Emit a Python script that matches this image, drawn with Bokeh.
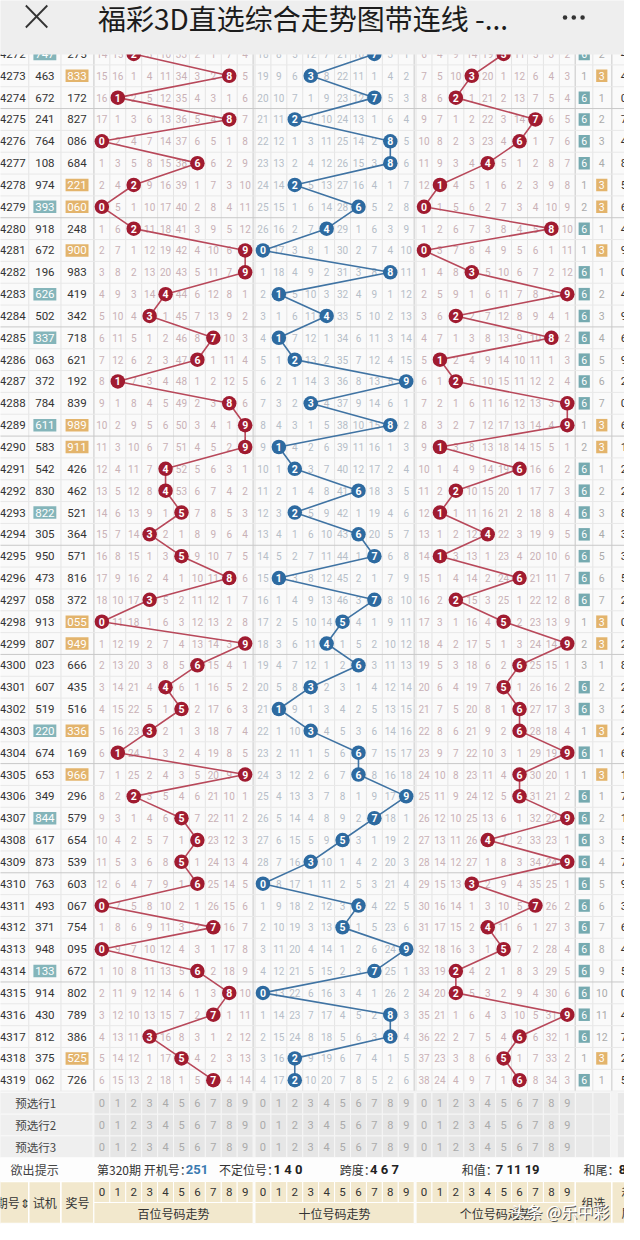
from bokeh.plotting import figure
from bokeh.models import ColumnDataSource, Range1d
from bokeh.core.properties import value
from bokeh.embed import file_html
from bokeh.resources import INLINE

# ---------------- data ----------------
periods = list(range(4272, 4320))
trial_nums = ["747", "463", "672", "241", "764", "108", "974", "393", "918", "672",
              "196", "626", "502", "337", "063", "372", "784", "611", "583", "542",
              "830", "822", "305", "950", "473", "058", "913", "807", "023", "607",
              "519", "220", "674", "653", "349", "844", "617", "873", "763", "493",
              "371", "948", "133", "914", "430", "812", "375", "062"]
prize_nums = ["275", "833", "172", "827", "086", "684", "221", "060", "248", "900",
              "983", "419", "342", "718", "621", "192", "839", "989", "911", "426",
              "462", "521", "364", "571", "816", "372", "055", "949", "666", "435",
              "516", "336", "169", "966", "296", "579", "654", "539", "603", "067",
              "754", "095", "672", "802", "789", "386", "525", "726"]
# omission values on the first (partly hidden) row 4272, digits 0-9
hund_omit_4272 = [14, 15, 0, 3, 10, 33, 2, 1, 7, 4]
tens_omit_4272 = [18, 8, 5, 12, 7, 21, 10, 0, 3, 1]
unit_omit_4272 = [6, 4, 9, 14, 19, 0, 11, 5, 3, 2]
group6_omit_4272 = 0
group3_omit_4272 = 2
digits = list(range(10))
preselect_rows = ["预选行1", "预选行2", "预选行3"]
hint_title = "欲出提示"
hint_labels = ["第320期 开机号：", "不定位号：", "跨度：", "和值：", "和尾："]
hint_values = ["251", "1 4 0", "4 6 7", "7 11 19", "8"]
header_left = ["期号⇕", "试机", "奖号"]
block_titles = ["百位号码走势", "十位号码走势", "个位号码走势"]
count_label = "出现总次数"
count_hund = [5, 3, 4, 5, 4, 6, 7, 5, 5, 6]
count_tens = [3, 5, 7, 5, 3, 3, 7, 6, 6, 5]
count_unit = [2, 5, 7, 3, 4, 6, 10, 3, 2, 9]
count_group = [27, 13]
title = "福彩3D直选综合走势图带连线 -..."
watermark = "头条 @乐中彩"

# ---------------- layout / style ----------------
ROW_H = 21.835
ROW_Y0 = 61.47
COL_W = 16.33
BLOCK_X0 = [95.8, 261.0, 426.2]
X_PERIOD, X_TRIAL, X_PRIZE = 12.5, 45.5, 78.5
X_G6, X_G3, X_TAIL = 598.7, 616.7, 639.5
BODY_TOP, BODY_BOT = 50, ROW_Y0 + 47.5 * ROW_H
PRE_TOP, PRE_H = 1100.0, 21.7
HINT_Y = 1177
HEAD_TOP, HEAD_MID, HEAD_BOT = 1189, 1210, 1231
COUNT_Y = 1243
RED, BLUE = "#a01b30", "#2d6aa0"
RED_LINE, BLUE_LINE = "#b8485a", "#3f73a3"
TEAL, ORANGE = "#84b5ba", "#e3b46c"
OMIT_COLORS = ["#c9b1b6", "#b6bec8", "#c9b1b6"]
NUM_FONT = value("Roboto")
CJK_FONT = value("Noto Sans CJK SC")

n = len(periods)
ys = [ROW_Y0 + i * ROW_H for i in range(n)]


def dx(block, d):
    return BLOCK_X0[block] + (d + 0.5) * COL_W


# derived: position digits, omissions, group type
pos_digits = [[int(s[k]) for s in prize_nums] for k in range(3)]
inits = [hund_omit_4272, tens_omit_4272, unit_omit_4272]
omits = []
for k in range(3):
    cur = list(inits[k])
    rows = [cur[:]]
    for r in range(1, n):
        dd = pos_digits[k][r]
        cur = [0 if d == dd else cur[d] + 1 for d in range(10)]
        rows.append(cur[:])
    omits.append(rows)


def kind(s):
    u = len(set(s))
    return 6 if u == 3 else (3 if u == 2 else 0)


kinds = [kind(s) for s in prize_nums]
g6, g3 = [group6_omit_4272], [group3_omit_4272]
for r in range(1, n):
    g6.append(0 if kinds[r] == 6 else g6[-1] + 1)
    g3.append(0 if kinds[r] == 3 else g3[-1] + 1)

p = figure(width=624, height=1224, x_range=Range1d(0, 640), y_range=Range1d(1232, 8),
           output_backend="svg", toolbar_location=None, min_border=0)
p.axis.visible = False
p.grid.visible = False
p.outline_line_color = None
p.background_fill_color = "#fafafa"
p.border_fill_color = "#fafafa"


def txt(xs, yy, tt, size, color, font=NUM_FONT, align="center", style="normal"):
    if isinstance(color, str):
        color = [color] * len(xs)
    src = ColumnDataSource(dict(x=xs, y=yy, t=tt, c=color))
    p.text(x="x", y="y", text="t", source=src, text_font=font,
           text_font_size=value(size), text_color="c", text_align=align,
           text_baseline="middle", text_font_style=style)


# ---- body grid ----
vx = [29, 62, 589.5, 607.5, 627]
for b in range(3):
    for d in range(11):
        vx.append(BLOCK_X0[b] + d * COL_W)
p.segment(x0=vx, y0=[BODY_TOP] * len(vx), x1=vx, y1=[BODY_BOT] * len(vx),
          line_color="#e4e4e4", line_width=1)
sep_x = [95.8, 259.1, 424.3, 589.5, 627]
p.segment(x0=sep_x, y0=[BODY_TOP] * 5, x1=sep_x, y1=[BODY_BOT] * 5,
          line_color="#d2d2d2", line_width=1)
hy_thin, hy_thick = [], []
for i in range(n):
    yb = ys[i] + ROW_H / 2
    if i + 1 < n and periods[i + 1] % 5 == 0:
        hy_thick.append(yb)
    else:
        hy_thin.append(yb)
p.segment(x0=[-5] * len(hy_thin), y0=hy_thin, x1=[650] * len(hy_thin), y1=hy_thin,
          line_color="#e8e8e8", line_width=1)
p.segment(x0=[-5] * len(hy_thick), y0=hy_thick, x1=[650] * len(hy_thick), y1=hy_thick,
          line_color="#c8c8c8", line_width=1)

# ---- omission numbers ----
for k in range(3):
    xs_, ys_, ts_ = [], [], []
    for r in range(n):
        for d in range(10):
            if omits[k][r][d] != 0:
                xs_.append(dx(k, d))
                ys_.append(ys[r])
                ts_.append(str(omits[k][r][d]))
    txt(xs_, ys_, ts_, "10px", OMIT_COLORS[k])

# ---- left columns ----
txt([X_PERIOD] * n, ys, [str(v) for v in periods], "11.5px", "#333333")
t_hi = [i for i in range(n) if kind(trial_nums[i]) == 3]
p_hi = [i for i in range(n) if kinds[i] == 3]
p.rect(x=[X_TRIAL] * len(t_hi), y=[ys[i] for i in t_hi], width=23.5, height=12.5,
       fill_color=TEAL, line_color=None)
p.rect(x=[X_PRIZE] * len(p_hi), y=[ys[i] for i in p_hi], width=23.5, height=12.5,
       fill_color=ORANGE, line_color=None)
txt([X_TRIAL] * n, ys, trial_nums, "11.5px",
    ["#ffffff" if kind(trial_nums[i]) == 3 else "#333333" for i in range(n)])
txt([X_PRIZE] * n, ys, prize_nums, "11.5px",
    ["#ffffff" if kinds[i] == 3 else "#333333" for i in range(n)])

# ---- group columns and sum tail ----
i6 = [i for i in range(n) if kinds[i] == 6]
i3 = [i for i in range(n) if kinds[i] == 3]
p.rect(x=[X_G6] * len(i6), y=[ys[i] for i in i6], width=11.5, height=12.5,
       fill_color="#76aab0", line_color=None)
p.rect(x=[X_G3] * len(i3), y=[ys[i] for i in i3], width=11.5, height=12.5,
       fill_color=ORANGE, line_color=None)
txt([X_G6] * n, ys, ["6" if g6[i] == 0 else str(g6[i]) for i in range(n)], "10.5px",
    ["#ffffff" if g6[i] == 0 else "#aaaaaa" for i in range(n)])
txt([X_G3] * n, ys, ["3" if g3[i] == 0 else str(g3[i]) for i in range(n)], "10.5px",
    ["#ffffff" if g3[i] == 0 else "#aaaaaa" for i in range(n)])
txt([X_TAIL] * n, ys, [str(sum(int(c) for c in s) % 10) for s in prize_nums], "11.5px", "#333333")

# ---- connecting lines and balls ----
for k, lc in enumerate([RED_LINE, BLUE_LINE, RED_LINE]):
    bx = [dx(k, pos_digits[k][r]) for r in range(n)]
    p.line(bx, ys, line_color=lc, line_width=1.6)
for k, fc in enumerate([RED, BLUE, RED]):
    bx = [dx(k, pos_digits[k][r]) for r in range(n)]
    p.scatter(bx, ys, size=14.5, fill_color=fc, line_color=None)
    txt(bx, ys, [str(pos_digits[k][r]) for r in range(n)], "10.5px", "#ffffff", style="bold")

# ---- preselect rows ----
p.quad(left=[-5], right=[650], top=[BODY_BOT], bottom=[PRE_TOP + 3 * PRE_H],
       fill_color="#f3f3f3", line_color=None)
pre_y = [PRE_TOP + (j + 0.5) * PRE_H for j in range(3)]
cx, cy = [], []
for j in range(3):
    for b in range(3):
        for d in digits:
            cx.append(dx(b, d))
            cy.append(pre_y[j])
p.rect(x=cx, y=cy, width=COL_W, height=PRE_H, fill_color="#e6e6e6",
       line_color="#f6f6f6", line_width=1)
p.rect(x=[X_G6] * 3 + [X_G3] * 3 + [X_TAIL + 2] * 3, y=pre_y * 3, width=18, height=PRE_H,
       fill_color="#e9e9e9", line_color="#f6f6f6", line_width=1)
p.rect(x=[45] * 3, y=pre_y, width=100, height=PRE_H, fill_color="#efefef",
       line_color="#f8f8f8", line_width=1)
txt(cx, cy, [str(d) for _ in range(3) for _b in range(3) for d in digits], "11px", "#aaaaaa")
txt([36] * 3, pre_y, preselect_rows, "11.5px", "#444444", font=CJK_FONT)

# ---- hint row ----
p.quad(left=[-5], right=[650], top=[PRE_TOP + 3 * PRE_H], bottom=[HEAD_TOP],
       fill_color="#fdfdfd", line_color=None)
txt([35], [HINT_Y], [hint_title], "12px", "#444444", font=CJK_FONT)
txt([99, 224, 348, 473, 598], [HINT_Y] * 5, hint_labels, "12px", "#333333",
    font=CJK_FONT, align="left")
txt([190, 280, 379, 508, 634], [HINT_Y] * 5, hint_values, "13px",
    ["#3a7ab0", "#222222", "#222222", "#222222", "#222222"], align="left", style="bold")

# ---- header ----
BEIGE = "#f2e8cd"
hx = [(-4 + 29) / 2, (29 + 62) / 2, (62 + 95.8) / 2]
p.rect(x=hx, y=[(HEAD_TOP + HEAD_BOT) / 2] * 3, width=[33, 33, 33.8],
       height=HEAD_BOT - HEAD_TOP, fill_color=BEIGE, line_color="#ffffff", line_width=1.5)
hdx, hdy = [], []
for b in range(3):
    for d in digits:
        hdx.append(dx(b, d))
        hdy.append((HEAD_TOP + HEAD_MID) / 2)
p.rect(x=hdx, y=hdy, width=COL_W, height=HEAD_MID - HEAD_TOP, fill_color=BEIGE,
       line_color="#ffffff", line_width=1)
bcx = [BLOCK_X0[b] + 5 * COL_W for b in range(3)]
p.rect(x=bcx, y=[(HEAD_MID + HEAD_BOT) / 2] * 3, width=10 * COL_W, height=HEAD_BOT - HEAD_MID,
       fill_color=BEIGE, line_color="#ffffff", line_width=1)
p.rect(x=[(589.5 + 627) / 2, 640], y=[(HEAD_TOP + HEAD_BOT) / 2] * 2, width=[37.5, 26],
       height=HEAD_BOT - HEAD_TOP, fill_color=BEIGE, line_color="#ffffff", line_width=1.5)
txt(hdx, hdy, [str(d) for _b in range(3) for d in digits], "11.5px", "#333333")
txt(bcx, [(HEAD_MID + HEAD_BOT) / 2] * 3, block_titles, "12px", "#333333", font=CJK_FONT)
txt(hx, [(HEAD_TOP + HEAD_BOT) / 2] * 3, header_left, "12px", "#333333", font=CJK_FONT)
txt([608.2], [(HEAD_TOP + HEAD_BOT) / 2], ["组选"], "12px", "#333333", font=CJK_FONT)
txt([643, 643], [1200, 1220], ["和", "尾"], "12px", "#333333", font=CJK_FONT)

# ---- count row ----
p.quad(left=[-5], right=[650], top=[HEAD_BOT], bottom=[1260], fill_color="#fcfcfc",
       line_color=None)
cnt_x = [dx(b, d) for b in range(3) for d in digits] + [X_G6, X_G3]
cnt_t = [str(v) for v in count_hund + count_tens + count_unit + count_group]
txt(cnt_x, [COUNT_Y] * len(cnt_x), cnt_t, "11.5px", "#444444")
txt([31], [COUNT_Y], [count_label], "11.5px", "#444444", font=CJK_FONT)

# ---- watermark ----
txt([524.2], [1219.2], [watermark], "16px", "#555555", font=CJK_FONT, align="left")
txt([523], [1218], [watermark], "16px", "#ffffff", font=CJK_FONT, align="left")

# ---- title bar ----
p.quad(left=[-5], right=[650], top=[-5], bottom=[62], fill_color="#eeeeee", line_color=None)
p.segment(x0=[26, 26], y0=[13, 35], x1=[48, 48], y1=[35, 13], line_color="#333333", line_width=1.8)
txt([100], [25], [title], "28px", "#1c1c1c", font=CJK_FONT, align="left")
p.scatter([579, 588, 597], [25, 25, 25], size=4.5, fill_color="#333333", line_color=None)

open("out.html", "w").write(file_html(p, INLINE))
